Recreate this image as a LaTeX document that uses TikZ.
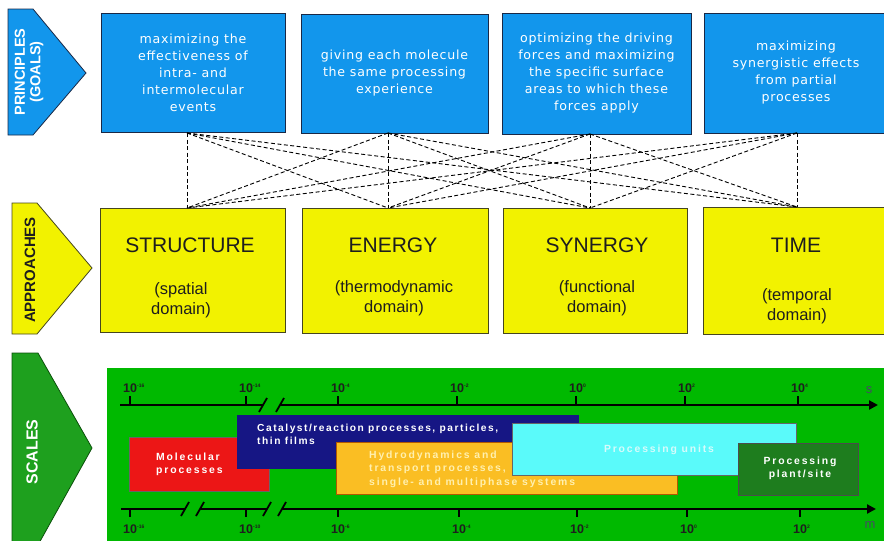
\documentclass[tikz,border=0pt]{standalone}
\usepackage{fontspec}
\setmainfont{Liberation Sans}
\newfontfamily\bluefont[LetterSpace=6]{DejaVu Sans}
\newfontfamily\procfont[LetterSpace=18]{Liberation Sans}
\newfontfamily\catfont[LetterSpace=15]{Liberation Sans}
\usetikzlibrary{arrows.meta,calc}
\definecolor{goalblue}{RGB}{18,150,236}
\definecolor{navyline}{RGB}{25,40,70}
\definecolor{appyellow}{RGB}{242,242,0}
\definecolor{oliveline}{RGB}{70,70,30}
\definecolor{panelgreen}{RGB}{0,185,0}
\definecolor{scalegreen}{RGB}{30,160,30}
\definecolor{scaleline}{RGB}{10,80,10}
\definecolor{molred}{RGB}{236,22,22}
\definecolor{catnavy}{RGB}{22,22,132}
\definecolor{hydorange}{RGB}{250,190,35}
\definecolor{unitcyan}{RGB}{90,250,250}
\definecolor{plantgreen}{RGB}{30,125,30}
\definecolor{paleyellow}{RGB}{255,240,175}
\definecolor{palecyan}{RGB}{215,250,250}
\definecolor{darktext}{RGB}{30,30,30}
\definecolor{unitgray}{RGB}{70,75,100}
\newcommand{\tenpow}[1]{10\raisebox{5pt}{\fontsize{5}{5}\selectfont #1}}
\begin{document}
\begin{tikzpicture}[x=1pt,y=-1pt,
  goalbox/.style={draw=navyline, line width=0.8pt, fill=goalblue, text=white,
    font=\bluefont\fontsize{12.6}{17}\selectfont, align=center, inner sep=0pt},
  appbox/.style={draw=oliveline, line width=0.8pt, fill=appyellow, inner sep=0pt},
  headtext/.style={text=darktext, font=\fontsize{21}{24}\selectfont},
  subtext/.style={text=darktext, font=\fontsize{16.5}{20}\selectfont, align=center},
  dashlink/.style={dash pattern=on 4pt off 2.5pt, line width=0.9pt, black},
  sidelabel/.style={rotate=90, font=\bfseries, align=center},
  procbox/.style={draw=black!60, line width=0.6pt, inner sep=0pt},
  proctext/.style={font=\procfont\bfseries\fontsize{10.4}{13}\selectfont, align=left, inner sep=0pt},
  axisline/.style={line width=2.2pt, black},
  ticklabel/.style={font=\bfseries\fontsize{12.5}{13}\selectfont, anchor=base west, inner sep=0pt, text=darktext},
  breakmark/.style={line width=1.8pt, black}
]
\useasboundingbox (0,0) rectangle (884,541);
\clip (0,0) rectangle (884,541);

% ---------- PRINCIPLES row ----------
\draw[draw=navyline, line width=0.8pt, fill=goalblue] (8,9) -- (33,9) -- (86,73) -- (33,135) -- (8,135) -- cycle;
\node[sidelabel, text=white, font=\bfseries\fontsize{14.5}{15.5}\selectfont] (princ) at (29,72) {PRINCIPLES\\(GOALS)};

\node[goalbox, minimum width=184pt, minimum height=119pt] (g1) at (193,72.5)
  {maximizing the\\effectiveness of\\intra- and\\intermolecular\\events};
\node[goalbox, minimum width=187pt, minimum height=119pt] (g2) at (394.5,73.5)
  {giving each molecule\\the same processing\\experience};
\node[goalbox, minimum width=189pt, minimum height=121pt] (g3) at (596.5,73.5)
  {optimizing the driving\\forces and maximizing\\the specific surface\\areas to which these\\forces apply};
\node[goalbox, minimum width=184pt, minimum height=120pt] (g4) at (796,73)
  {maximizing\\synergistic effects\\from partial\\processes};

% ---------- APPROACHES row ----------
\draw[draw=oliveline, line width=0.8pt, fill=appyellow] (12,203) -- (37,203) -- (92,268) -- (37,334) -- (12,334) -- cycle;
\node[sidelabel, text=darktext, font=\bfseries\fontsize{15}{16}\selectfont] (appr) at (30,270) {APPROACHES};

\node[appbox, minimum width=185pt, minimum height=124pt] (a1) at (192.5,270) {};
\node[appbox, minimum width=186pt, minimum height=125pt] (a2) at (395,270.5) {};
\node[appbox, minimum width=184pt, minimum height=125pt] (a3) at (595,270.5) {};
\node[appbox, minimum width=186pt, minimum height=127pt] (a4) at (796,270.5) {};

\node[headtext] (h1) at (190,245) {STRUCTURE};
\node[headtext] (h2) at (393,245) {ENERGY};
\node[headtext] (h3) at (597,245) {SYNERGY};
\node[headtext] (h4) at (796,245) {TIME};
\node[subtext] (s1) at (181,300) {(spatial\\domain)};
\node[subtext] (s2) at (394,298) {(thermodynamic\\domain)};
\node[subtext] (s3) at (597,298) {(functional\\domain)};
\node[subtext] (s4) at (797,306) {(temporal\\domain)};

% ---------- dashed links ----------
\coordinate (t1) at (187,133); \coordinate (t2) at (388,133);
\coordinate (t3) at (590,134); \coordinate (t4) at (797,133);
\coordinate (b1) at (187,208); \coordinate (b2) at (388,208);
\coordinate (b3) at (590,208); \coordinate (b4) at (797,207);
\foreach \i in {1,2,3,4}{
  \foreach \j in {1,2,3,4}{
    \draw[dashlink] (t\i) -- (b\j);
  }
}

% ---------- SCALES row ----------
\draw[draw=scaleline, line width=0.8pt, fill=scalegreen] (12,353) -- (38,353) -- (92,448) -- (38,545) -- (12,545) -- cycle;
\node[sidelabel, text=white, font=\bfseries\fontsize{16}{17}\selectfont] (scal) at (32,452) {SCALES};

\fill[panelgreen] (107,368) rectangle (886,545);

% process boxes (back to front)
\node[procbox, fill=molred, minimum width=140pt, minimum height=54pt] (mol) at (199,464) {};
\node[proctext, text=white, anchor=west] (moltext) at (156,464) {Molecular\\processes};
\node[procbox, fill=catnavy, draw=catnavy, minimum width=341pt, minimum height=53pt] (cat) at (407.5,441.5) {};
\node[proctext, text=white, anchor=north west, font=\catfont\bfseries\fontsize{10.2}{12.5}\selectfont] (cattext) at (257,424) {Catalyst/reaction processes, particles,\\thin films};
\node[procbox, fill=hydorange, draw=orange!70!black, minimum width=341pt, minimum height=52pt] (hyd) at (506.5,468) {};
\node[proctext, text=paleyellow, anchor=west, font=\procfont\bfseries\fontsize{10.4}{13.5}\selectfont] (hydtext) at (369,469) {Hydrodynamics and\\transport processes,\\single- and multiphase systems};
\node[procbox, fill=unitcyan, minimum width=284pt, minimum height=52pt] (unit) at (654,449) {};
\node[proctext, text=palecyan] (unittext) at (659,450) {Processing units};
\node[procbox, fill=plantgreen, draw=black!70, minimum width=120pt, minimum height=52pt] (plant) at (798,469) {};
\node[proctext, text=white, align=center] (planttext) at (800,468) {Processing\\plant/site};

% ---------- time axis (top) ----------
\coordinate (ts) at (120,405); \coordinate (tb1) at (263,405);
\coordinate (tb2) at (280,405); \coordinate (te) at (878,405);
\draw[axisline] (ts) -- (tb1);
\draw[axisline, -{Triangle[length=9pt,width=9pt]}] (tb2) -- (te);
\draw[breakmark] ($(tb1)+(-4,7)$) -- ($(tb1)+(4,-7)$);
\draw[breakmark] ($(tb2)+(-4,7)$) -- ($(tb2)+(4,-7)$);
\foreach \x/\e in {130/-16,246/-14,338/-4,457/-2,576/0,685/2,798/4}{
  \draw[line width=1.8pt] (\x,396) -- (\x,405);
  \node[ticklabel] at (\x-7,392) {\tenpow{\e}};
}
\node[text=unitgray, font=\fontsize{13}{13}\selectfont] (slab) at (869,390) {s};

% ---------- length axis (bottom) ----------
\coordinate (ms) at (121,509); \coordinate (mb1) at (185,509);
\coordinate (mb2) at (200,509); \coordinate (mb3) at (267,509);
\coordinate (mb4) at (282,509); \coordinate (me) at (876,509);
\draw[axisline] (ms) -- (mb1);
\draw[axisline] (mb2) -- (mb3);
\draw[axisline, -{Triangle[length=9pt,width=9pt]}] (mb4) -- (me);
\foreach \c in {mb1,mb2,mb3,mb4}{
  \draw[breakmark] ($(\c)+(-4,7)$) -- ($(\c)+(4,-7)$);
}
\foreach \x/\e in {130/-16,246/-10,338/-6,459/-4,577/-2,687/0,800/2}{
  \draw[line width=1.8pt] (\x,509) -- (\x,517);
  \node[ticklabel] at (\x-7,533) {\tenpow{\e}};
}
\node[text=unitgray, font=\fontsize{13}{13}\selectfont] (mlab) at (870,525) {m};
\end{tikzpicture}
\end{document}
